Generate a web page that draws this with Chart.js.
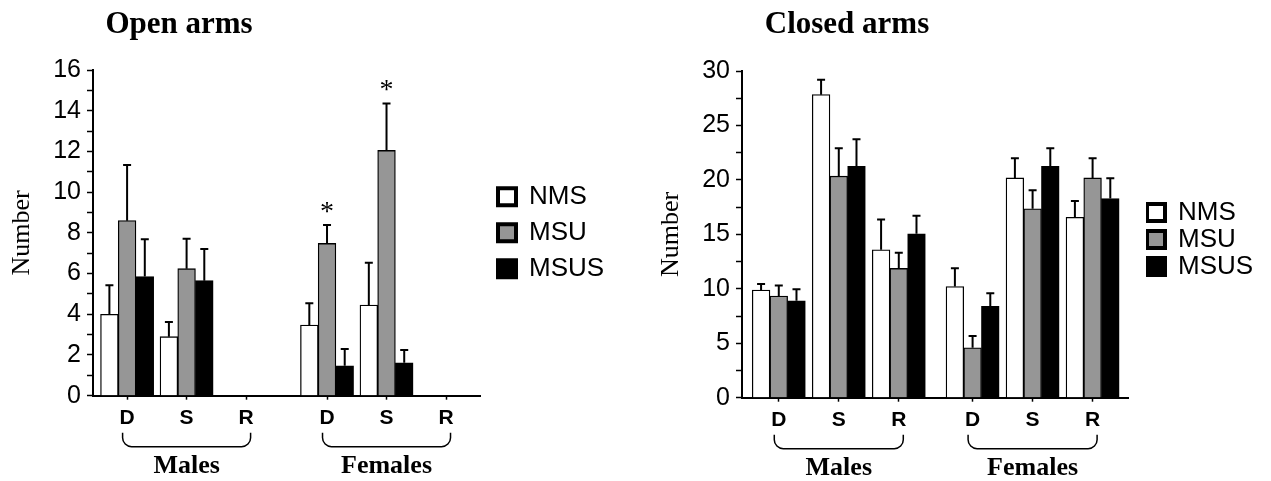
<!DOCTYPE html>
<html>
<head>
<meta charset="utf-8">
<script src="https://cdn.jsdelivr.net/npm/chart.js@4"></script>
<style>
html, body { margin: 0; padding: 0; background: #ffffff; }
#wrap { position: relative; width: 1271px; height: 481px; overflow: hidden; }
#c1 { position: absolute; left: 0; top: 0; }
#c2 { position: absolute; left: 635px; top: 0; }
</style>
</head>
<body>
<div id="wrap">
  <canvas id="c1" width="635" height="481"></canvas>
  <canvas id="c2" width="636" height="481"></canvas>
</div>
<script>
// ---------- data ----------
const seriesNames = ['NMS', 'MSU', 'MSUS'];
const tickLabels = ['D', 'S', 'R', 'D', 'S', 'R'];
const groupLabels = ['Males', 'Females'];
const groupRanges = [[0, 2], [3, 5]];

// x positions of the six D/S/R slots (category units, gap between sexes)
const openPositions = [0, 1, 2, 3.36, 4.36, 5.36];
const closedPositions = [0, 1, 2, 3.23, 4.23, 5.23];

// Open arms
const openNMS = [4.0, 2.9, 0, 3.47, 4.45, 0];
const openMSU = [8.6, 6.24, 0, 7.48, 12.05, 0];
const openMSUS = [5.85, 5.65, 0, 1.47, 1.62, 0];
const openNMSErr = [1.43, 0.72, 0, 1.07, 2.08, 0];
const openMSUErr = [2.73, 1.47, 0, 0.9, 2.31, 0];
const openMSUSErr = [1.83, 1.56, 0, 0.82, 0.62, 0];
const openMSUStars = ['', '', '', '*', '*', ''];

// Closed arms
const closedNMS = [9.88, 27.83, 13.58, 10.21, 20.18, 16.57];
const closedMSU = [9.33, 20.34, 11.87, 4.59, 17.34, 20.18];
const closedMSUS = [8.9, 21.25, 15.05, 8.38, 21.25, 18.29];
const closedNMSErr = [0.55, 1.37, 2.78, 1.68, 1.8, 1.5];
const closedMSUErr = [0.98, 2.57, 1.43, 1.07, 1.71, 1.8];
const closedMSUSErr = [1.07, 2.48, 1.65, 1.22, 1.65, 1.86];

// ---------- styles ----------
const seriesFills = ['#ffffff', '#969696', '#000000'];
const SANS = "'Liberation Sans', Arial, Helvetica, sans-serif";
const SERIF = "'Liberation Serif', 'Times New Roman', Times, serif";

Chart.defaults.color = '#000';
Chart.defaults.font.family = SANS;

const extrasPlugin = {
  id: 'extras',
  afterLayout(chart, args, opts) {
    const L = chart.legend;
    if (!L) return;
    const pad = chart.options.plugins.legend.labels.padding;
    const w = L.width, h = L.height;
    L.left = opts.legendX - pad;
    L.right = L.left + w;
    L.top = opts.legendY - pad;
    L.bottom = L.top + h;
  },
  afterDatasetsDraw(chart, args, opts) {
    const ctx = chart.ctx;
    const ys = chart.scales.y;
    ctx.save();
    chart.data.datasets.forEach((ds, di) => {
      const meta = chart.getDatasetMeta(di);
      meta.data.forEach((bar, i) => {
        const e = ds.errors[i];
        const v = ds.data[i].y;
        if (!e) return;
        const top = ys.getPixelForValue(v + e);
        ctx.strokeStyle = '#000';
        ctx.lineWidth = 2;
        ctx.beginPath();
        ctx.moveTo(bar.x, bar.y);
        ctx.lineTo(bar.x, top);
        ctx.moveTo(bar.x - 4, top);
        ctx.lineTo(bar.x + 4, top);
        ctx.stroke();
        if (ds.stars && ds.stars[i]) {
          ctx.fillStyle = '#000';
          ctx.font = '28px ' + SERIF;
          ctx.textAlign = 'center';
          ctx.textBaseline = 'alphabetic';
          ctx.fillText(ds.stars[i], bar.x, top - 5.5);
        }
      });
    });
    ctx.restore();
  },
  afterDraw(chart, args, opts) {
    const ctx = chart.ctx;
    const xs = chart.scales.x;
    const area = chart.chartArea;
    const pos = chart.data.datasets[0].data.map(d => d.x);
    ctx.save();
    // title
    ctx.fillStyle = '#000';
    ctx.font = 'bold 31px ' + SERIF;
    ctx.textAlign = 'center';
    ctx.textBaseline = 'alphabetic';
    ctx.fillText(opts.title, opts.titleX, 33);
    // brackets + group labels
    const yTop = area.bottom + 37;
    const yBot = area.bottom + 51;
    const r = 9;
    groupRanges.forEach((rg, gi) => {
      const x1 = xs.getPixelForValue(pos[rg[0]]) - 4.5;
      const x2 = xs.getPixelForValue(pos[rg[1]]) + 4.5;
      ctx.strokeStyle = '#000';
      ctx.lineWidth = 1.5;
      ctx.beginPath();
      ctx.moveTo(x1, yTop);
      ctx.lineTo(x1, yBot - r);
      ctx.arcTo(x1, yBot, x1 + r, yBot, r);
      ctx.lineTo(x2 - r, yBot);
      ctx.arcTo(x2, yBot, x2, yBot - r, r);
      ctx.lineTo(x2, yTop);
      ctx.stroke();
      ctx.font = 'bold 26px ' + SERIF;
      ctx.textAlign = 'center';
      ctx.textBaseline = 'alphabetic';
      ctx.fillText(groupLabels[gi], (x1 + x2) / 2, area.bottom + 77);
    });
    ctx.restore();
  }
};

function buildChart(canvasId, spec) {
  const datasets = spec.values.map((vals, si) => ({
    label: seriesNames[si],
    data: vals.map((v, i) => ({ x: spec.positions[i], y: v })),
    errors: spec.errors[si],
    stars: spec.stars[si],
    backgroundColor: seriesFills[si],
    borderColor: '#000',
    borderWidth: 1.3,
    barThickness: 17.7
  }));
  return new Chart(document.getElementById(canvasId), {
    type: 'bar',
    data: { datasets },
    options: {
      responsive: false,
      animation: false,
      devicePixelRatio: 1,
      layout: { padding: spec.padding },
      plugins: {
        tooltip: { enabled: false },
        legend: {
          position: 'chartArea',
          align: 'start',
          labels: {
            boxWidth: 18,
            boxHeight: 17,
            padding: spec.legendPad,
            color: '#000',
            font: { family: SANS, size: 26 },
            generateLabels: (chart) => chart.data.datasets.map((ds, i) => ({
              text: ds.label,
              fillStyle: ds.backgroundColor,
              strokeStyle: '#000',
              lineWidth: 4,
              hidden: false,
              datasetIndex: i
            }))
          }
        },
        extras: {
          title: spec.title,
          titleX: spec.titleX,
          legendX: spec.legendX,
          legendY: spec.legendY
        }
      },
      scales: {
        x: {
          type: 'linear',
          min: spec.xmin,
          max: spec.xmax,
          offset: false,
          afterBuildTicks: (s) => { s.ticks = spec.positions.map(v => ({ value: v })); },
          afterFit: (s) => { s.height = spec.xHeight; },
          ticks: {
            autoSkip: false,
            maxRotation: 0,
            padding: 6,
            color: '#000',
            font: { family: SANS, size: 21, weight: 'bold' },
            callback: (v, i) => tickLabels[i]
          },
          grid: { offset: false, drawOnChartArea: false, drawTicks: true, tickLength: 4, tickWidth: 1.5, tickColor: '#000' },
          border: { display: true, color: '#000', width: 2 }
        },
        y: {
          min: 0,
          max: spec.ymax,
          afterFit: (s) => { s.width = spec.yWidth; },
          ticks: {
            stepSize: spec.minorStep,
            autoSkip: false,
            padding: 6,
            color: '#000',
            font: { family: SANS, size: 25 },
            callback: (v) => (Math.abs(v % spec.majorStep) < 1e-9 ? String(v) : '')
          },
          grid: { drawOnChartArea: false, drawTicks: true, tickLength: 6, tickWidth: 1.5, tickColor: '#000' },
          border: { display: true, color: '#000', width: 2 },
          title: {
            display: true,
            text: 'Number',
            color: '#000',
            font: { family: SERIF, size: 26 },
            padding: { top: spec.yTitlePad, bottom: 0 }
          }
        }
      }
    },
    plugins: [extrasPlugin]
  });
}

buildChart('c1', {
  title: 'Open arms',
  titleX: 179,
  positions: openPositions,
  values: [openNMS, openMSU, openMSUS],
  errors: [openNMSErr, openMSUErr, openMSUSErr],
  stars: [null, openMSUStars, null],
  xmin: -0.573, xmax: 5.931,
  ymax: 16, minorStep: 1, majorStep: 2,
  padding: { left: 0, top: 70, right: 155, bottom: 0 },
  yWidth: 93, xHeight: 85.3, yTitlePad: 6.4,
  legendPad: 10, legendX: 498, legendY: 183.8
});

buildChart('c2', {
  title: 'Closed arms',
  titleX: 212,
  positions: closedPositions,
  values: [closedNMS, closedMSU, closedMSUS],
  errors: [closedNMSErr, closedMSUErr, closedMSUSErr],
  stars: [null, null, null],
  xmin: -0.613, xmax: 5.82,
  ymax: 30, minorStep: 2.5, majorStep: 5,
  padding: { left: 0, top: 71, right: 143, bottom: 0 },
  yWidth: 107, xHeight: 83.3, yTitlePad: 20.4,
  legendPad: 1, legendX: 512, legendY: 199.5
});
</script>
</body>
</html>
